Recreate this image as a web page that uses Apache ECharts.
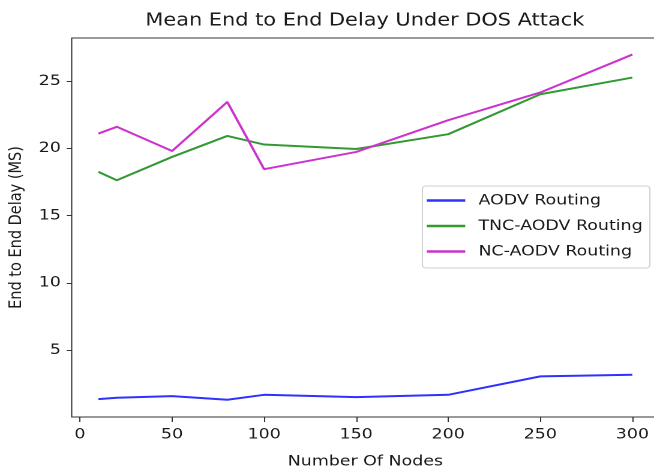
<!DOCTYPE html>
<html>
<head>
<meta charset="utf-8">
<script src="https://cdn.jsdelivr.net/npm/echarts@6/dist/echarts.min.js"></script>
<style>
  html, body { margin: 0; padding: 0; background: #fff; overflow: hidden; width: 654px; height: 473px; }
  /* the figure is laid out on a narrower canvas and widened by 1.2 horizontally */
  #chart { width: 566px; height: 473px; transform: scaleX(1.2); transform-origin: 0 0; }
</style>
</head>
<body>
<div id="chart"></div>
<script>
// Number of nodes in the network
const nodes = [10, 20, 50, 80, 100, 150, 200, 250, 300];

// Mean end-to-end delay (ms) per routing protocol
const aodv    = [1.36, 1.46, 1.58, 1.31, 1.68, 1.51, 1.68, 3.05, 3.17];
const tncAodv = [18.25, 17.63, 19.36, 20.92, 20.28, 19.95, 21.05, 24.02, 25.26];
const ncAodv  = [21.1, 21.6, 19.8, 23.45, 18.45, 19.73, 22.09, 24.15, 26.97];

const seriesNames = ['AODV Routing', 'TNC-AODV Routing', 'NC-AODV Routing'];
const xTicks = [0, 50, 100, 150, 200, 250, 300];
const yTicks = [5, 10, 15, 20, 25];

const colors = ['#3030ff', '#339933', '#cc33cc'];
const textColor = '#1a1a1a';
const font = 'DejaVu Sans';
const fs = 14.5;

const pair = (ys) => nodes.map((x, i) => [x, ys[i]]);

const chart = echarts.init(document.getElementById('chart'), null, { renderer: 'canvas', devicePixelRatio: 2 });

chart.setOption({
  animation: false,
  backgroundColor: '#fff',
  textStyle: { fontFamily: font, color: textColor },
  graphic: [{
    type: 'text',
    x: 304,
    y: 21,
    style: {
      text: 'Mean End to End Delay Under DOS Attack',
      font: '17.4px "DejaVu Sans"',
      fill: textColor,
      textAlign: 'center',
      textVerticalAlign: 'middle'
    }
  }],
  grid: {
    left: 59.75,
    top: 38,
    right: 16.8,
    bottom: 56,
    show: true,
    borderColor: '#333',
    borderWidth: 1,
    containLabel: false,
    outerBoundsMode: 'none'
  },
  legend: {
    orient: 'vertical',
    left: 352,
    top: 186,
    padding: [6, 6, 8, 3.7],
    itemGap: 8.5,
    itemWidth: 32,
    itemHeight: 2.4,
    icon: 'rect',
    backgroundColor: '#fff',
    borderColor: '#d0d0d0',
    borderWidth: 1,
    borderRadius: 3,
    data: seriesNames,
    textStyle: { fontFamily: font, fontSize: fs, lineHeight: 17, color: textColor, padding: [0, 0, 0, 6] }
  },
  xAxis: {
    type: 'value',
    min: -4.5,
    max: 314.5,
    name: 'Number Of Nodes',
    nameLocation: 'middle',
    nameGap: 37,
    nameTextStyle: { fontFamily: font, fontSize: fs, color: textColor },
    axisLine: { show: false, onZero: false },
    axisTick: { show: true, length: 5, customValues: xTicks, lineStyle: { color: '#333' } },
    axisLabel: { customValues: xTicks, margin: 10, fontFamily: font, fontSize: fs, color: textColor },
    splitLine: { show: false }
  },
  yAxis: {
    type: 'value',
    min: 0.03,
    max: 28.2,
    name: 'End to End Delay (MS)',
    nameLocation: 'middle',
    nameGap: 37,
    nameRotate: 90,
    nameTextStyle: { fontFamily: font, fontSize: fs, color: textColor },
    axisLine: { show: false, onZero: false },
    axisTick: { show: true, length: 4.2, customValues: yTicks, lineStyle: { color: '#333' } },
    axisLabel: { customValues: yTicks, margin: 9, fontFamily: font, fontSize: fs, color: textColor },
    splitLine: { show: false }
  },
  series: [aodv, tncAodv, ncAodv].map((ys, i) => ({
    name: seriesNames[i],
    type: 'line',
    data: pair(ys),
    symbol: 'none',
    showSymbol: false,
    color: colors[i],
    lineStyle: { color: colors[i], width: 2 },
    itemStyle: { color: colors[i] }
  }))
});
</script>
</body>
</html>
